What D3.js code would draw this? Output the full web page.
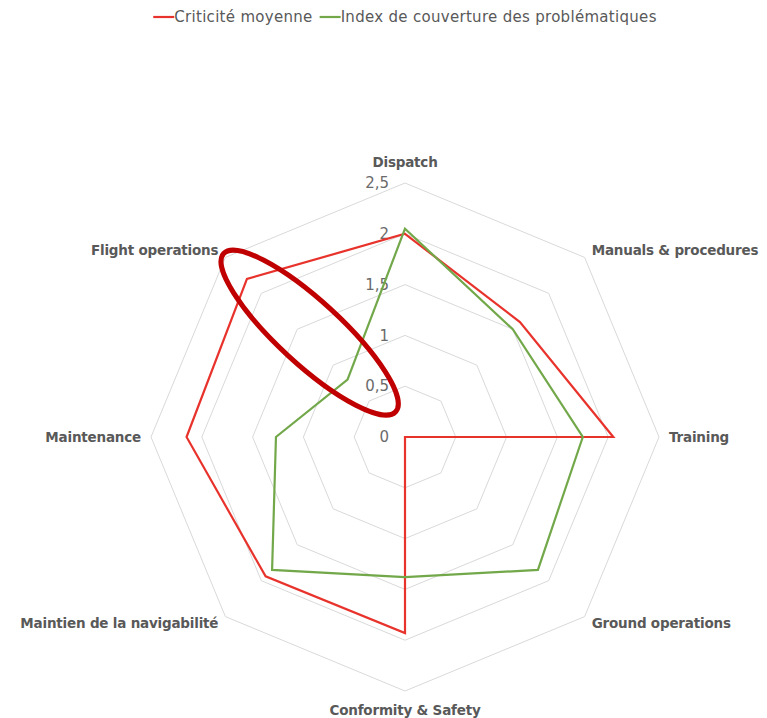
<!doctype html>
<html lang="fr">
<head>
  <meta charset="utf-8">
  <title>Radar</title>
  <script src="https://cdn.jsdelivr.net/npm/d3@7"></script>
  <style>
    body { margin: 0; background: #fff; }
    .axis-label { font: bold 13.5px "DejaVu Sans", sans-serif; fill: #595959; letter-spacing: -0.2px; }
    .tick-label { font: 15px "DejaVu Sans", sans-serif; fill: #6b6b6b; }
    .legend text { font: 15px "DejaVu Sans", sans-serif; fill: #595959; letter-spacing: 0.3px; }
  </style>
</head>
<body>
<svg width="767" height="718"></svg>
<script>
// categories, clockwise from the top
var categories = ["Dispatch", "Manuals & procedures", "Training", "Ground operations",
  "Conformity & Safety", "Maintien de la navigabilité", "Maintenance", "Flight operations"];
var criticite = [2.0, 1.6, 2.05, 0, 1.93, 1.94, 2.15, 2.2];
var couverture = [2.05, 1.5, 1.75, 1.85, 1.38, 1.85, 1.27, 0.8];
var ticks = [0, 0.5, 1, 1.5, 2, 2.5];
var seriesNames = ["Criticité moyenne", "Index de couverture des problématiques"];
var seriesColors = ["#e8332c", "#72a84a"];

var svg = d3.select("svg"),
  cx = 405, cy = 437,
  g = svg.append("g").attr("transform", "translate(" + cx + "," + cy + ")");

var r = d3.scaleLinear().domain([0, 2.5]).range([0, 254]);
var angle = d3.scalePoint().domain(categories).range([0, 2 * Math.PI * 7 / 8]);

function pt(cat, v) {
  var a = angle(cat);
  return [Math.sin(a) * r(v), -Math.cos(a) * r(v)];
}

// grid rings
g.selectAll(".ring")
  .data(ticks.filter(function (t) { return t > 0; }))
  .enter().append("polygon")
  .attr("points", function (t) { return categories.map(function (c) { return pt(c, t).join(","); }).join(" "); })
  .attr("fill", "none")
  .attr("stroke", "#d9d9d9")
  .attr("stroke-width", 1);

// tick labels
g.selectAll(".tick-label")
  .data(ticks)
  .enter().append("text")
  .attr("class", "tick-label")
  .attr("x", -16)
  .attr("y", function (t) { return -r(t); })
  .attr("dy", "0.35em")
  .attr("text-anchor", "end")
  .text(function (t) { return String(t).replace(".", ","); });

// series
var line = d3.lineRadial()
  .angle(function (d) { return angle(d.cat); })
  .radius(function (d) { return r(d.v); })
  .curve(d3.curveLinearClosed);

[criticite, couverture].forEach(function (vals, i) {
  g.append("path")
    .datum(categories.map(function (c, j) { return { cat: c, v: vals[j] }; }))
    .attr("d", line)
    .attr("fill", "none")
    .attr("stroke", seriesColors[i])
    .attr("stroke-width", 2.2)
    .attr("stroke-linejoin", "miter");
});

// axis labels
g.selectAll(".axis-label")
  .data(categories)
  .enter().append("text")
  .attr("class", "axis-label")
  .attr("x", function (c) { return Math.sin(angle(c)) * 264; })
  .attr("y", function (c) { return -Math.cos(angle(c)) * 264; })
  .attr("dy", function (c) {
    var cos = Math.cos(angle(c));
    if (cos > 0.9) return "-0.45em";
    if (cos < -0.9) return "1.05em";
    return "0.35em";
  })
  .attr("text-anchor", function (c) {
    var s = Math.sin(angle(c));
    return s > 0.1 ? "start" : s < -0.1 ? "end" : "middle";
  })
  .text(function (c) { return c; });

// annotation: ellipse around the "Flight operations" gap
var note = { cat: "Flight operations", at: 1.39, half: 1.15, width: 0.31, tilt: -2.4 };
var nc = pt(note.cat, note.at);
g.append("ellipse")
  .attr("transform", "translate(" + (nc[0] + 4.5) + "," + (nc[1] - 4.5) + ") rotate(" + (angle(note.cat) * 180 / Math.PI - 270 + note.tilt) + ")")
  .attr("rx", r(note.half))
  .attr("ry", r(note.width))
  .attr("fill", "none")
  .attr("stroke", "#c00000")
  .attr("stroke-width", 5);

// legend: items laid out one after another, centred over the chart
var legend = svg.append("g").attr("class", "legend");
var x = 0;
seriesNames.forEach(function (name, i) {
  legend.append("line")
    .attr("x1", x).attr("x2", x + 21)
    .attr("y1", 17).attr("y2", 17)
    .attr("stroke", seriesColors[i]).attr("stroke-width", 2.2);
  var t = legend.append("text")
    .attr("x", x + 21).attr("y", 17).attr("dy", "0.35em")
    .text(name);
  x += 21 + t.node().getComputedTextLength() + 7;
});
legend.attr("transform", "translate(" + (cx - (x - 7) / 2) + ",0)");
</script>
</body>
</html>
